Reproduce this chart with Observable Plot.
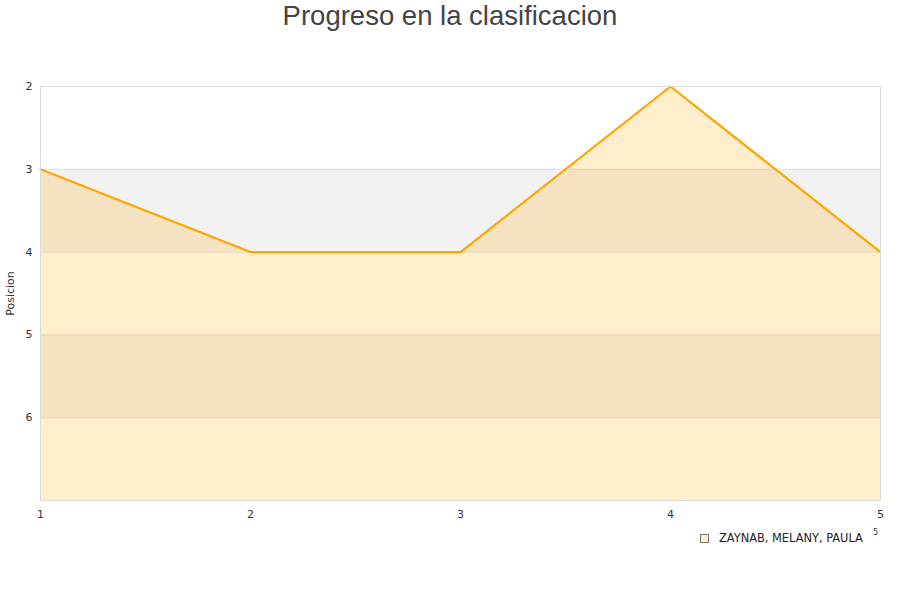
<!DOCTYPE html>
<html><head><meta charset="utf-8">
<script src="https://cdn.jsdelivr.net/npm/d3@7"></script>
<script src="https://cdn.jsdelivr.net/npm/@observablehq/plot@0.6"></script>
<style>
body{margin:0;background:#fff;}
#wrap{position:relative;width:900px;height:600px;}
#title{position:absolute;left:0;top:0;width:900px;text-align:center;font-family:"Liberation Sans",Arial,sans-serif;font-size:27.5px;color:#444;line-height:31px;}
#legend{position:absolute;left:700px;top:531px;font-family:"DejaVu Sans",sans-serif;font-size:11.4px;color:#222;display:flex;align-items:center;}
#legend .sw{width:7px;height:7px;border:1px solid #777;background:#ffedcc;margin-right:10px;}
#stray{position:absolute;left:873px;top:528px;font-family:"DejaVu Sans",sans-serif;font-size:8px;color:#333;}
svg{position:absolute;left:0;top:0;}
</style></head>
<body><div id="wrap"><div id="title">Progreso en la clasificacion</div>
<div id="legend"><div class="sw"></div><span>ZAYNAB, MELANY, PAULA</span></div>
<div id="stray">5</div>
</div>
<script>
const rounds = [1, 2, 3, 4, 5];
const positions = [3, 4, 4, 2, 4];
const yTicks = [2, 3, 4, 5, 6];
const bands = [[3, 4], [5, 6]];
const seriesName = "ZAYNAB, MELANY, PAULA";

const data = rounds.map((r, i) => ({r, p: positions[i]}));
const chart = Plot.plot({
  width: 900, height: 600,
  marginTop: 86, marginBottom: 100, marginLeft: 40, marginRight: 20,
  style: {fontFamily: "DejaVu Sans, sans-serif", fontSize: "11px", color: "#333", background: "transparent"},
  x: {domain: [1, 5], ticks: rounds, tickSize: 0, tickPadding: 10, tickFormat: d3.format("d"), label: null},
  y: {domain: [2, 7], reverse: true, ticks: yTicks, tickSize: 0, tickPadding: 8, tickFormat: d3.format("d"), label: "Posicion", labelAnchor: "center", labelArrow: "none", labelOffset: 34},
  marks: [
    Plot.rect(bands, {x1: () => 1, x2: () => 5, y1: d => d[0], y2: d => d[1], fill: "#f2f2f2"}),
    Plot.ruleY([3, 4, 5, 6], {stroke: "#e0e0e0"}),
    Plot.areaY(data, {x: "r", y1: 7, y2: "p", fill: "orange", fillOpacity: 0.2}),
    Plot.line(data, {x: "r", y: "p", stroke: "orange", strokeWidth: 2.2}),
    Plot.frame({stroke: "#dcdcdc"})
  ]
});
document.getElementById("wrap").appendChild(chart);
</script></body></html>
